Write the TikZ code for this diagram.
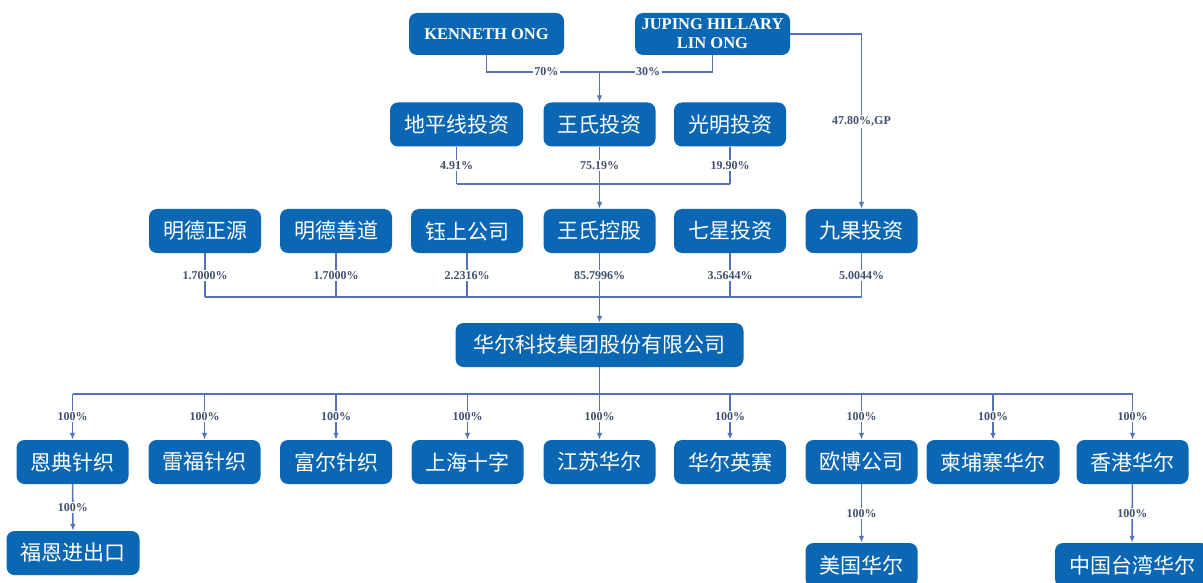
\documentclass[tikz,border=0pt]{standalone}
\usepackage{fontspec}
\setmainfont{Liberation Serif}
\newfontfamily\cjk{Noto Sans CJK SC}
\usetikzlibrary{arrows.meta,positioning}
\definecolor{boxblue}{HTML}{0B67B3}
\definecolor{linkblue}{HTML}{5272B4}
\definecolor{pctgray}{HTML}{3F4F6E}
\tikzset{
  firm/.style={fill=boxblue, text=white, rounded corners=8pt, minimum height=44pt,
    inner xsep=14pt, inner ysep=2pt, font=\cjk\fontsize{21}{21}\selectfont},
  person/.style={fill=boxblue, text=white, rounded corners=8pt, minimum height=42pt,
    minimum width=155pt, inner sep=3pt, align=center,
    font=\bfseries\fontsize{16.5}{19}\selectfont},
  link/.style={linkblue, line width=1.6pt},
  arr/.style={link, -{Latex[length=7pt,width=5.5pt]}},
  pct/.style={text=pctgray, fill=white, inner sep=1.5pt, font=\bfseries\fontsize{12}{13}\selectfont},
}

\begin{document}
\begin{tikzpicture}[x=1pt,y=-1pt]
\useasboundingbox (0,0) rectangle (1203,583);

% owners
\node[person] (ken) at (486.5,34) {KENNETH ONG};
\node[person, inner xsep=2pt] (jup) at (712.5,34) {JUPING HILLARY\\LIN ONG};

% investment level
\node[firm] (dpx) at (456.5,124.5) {地平线投资};
\node[firm] (wsinv) at (599.5,124.5) {王氏投资};
\node[firm] (gm) at (730,124.5) {光明投资};

% shareholders
\node[firm] (mdzy) at (205,231) {明德正源};
\node[firm] (mdsd) at (336,231) {明德善道};
\node[firm] (ys) at (467,231) {钰上公司};
\node[firm] (wskg) at (599.5,231) {王氏控股};
\node[firm] (qx) at (730,231) {七星投资};
\node[firm] (jg) at (861.5,231) {九果投资};

% listed company
\node[firm, inner xsep=18pt] (hr) at (599.5,345) {华尔科技集团股份有限公司};

% subsidiaries
\node[firm] (endian) at (72.5,462) {恩典针织};
\node[firm] (leifu) at (204.5,462) {雷福针织};
\node[firm] (fuer) at (336,462) {富尔针织};
\node[firm] (shsz) at (467.5,462) {上海十字};
\node[firm] (jshe) at (599.5,462) {江苏华尔};
\node[firm] (hrys) at (730,462) {华尔英赛};
\node[firm] (obo) at (861.5,462) {欧博公司};
\node[firm] (jpz) at (993,462) {柬埔寨华尔};
\node[firm] (xg) at (1132.5,462) {香港华尔};

\node[firm] (fuen) at (73,553) {福恩进出口};
\node[firm] (mg) at (861.5,565) {美国华尔};
\node[firm] (tw) at (1132,565) {中国台湾华尔};

% junctions
\coordinate (j0) at (599.5,72);
\coordinate (j1) at (599.5,184);
\coordinate (j2) at (599.5,297);
\coordinate (j3) at (599.5,394);

% top
\draw[link] (ken) -- (ken |- j0) -- node[pct, pos=0.53]{70\%} (j0);
\draw[link] (jup) -- (jup |- j0) -- node[pct, pos=0.57]{30\%} (j0);
\draw[arr] (j0) -- (wsinv);
\draw[arr] (jup.east) -- (jup.east -| jg) -- node[pct]{47.80\%,GP} (jg);

% into wskg
\draw[link] (dpx |- j1) -- (gm |- j1);
\draw[link] (dpx) -- node[pct]{4.91\%} (dpx |- j1);
\draw[link] (gm) -- node[pct]{19.90\%} (gm |- j1);
\draw[link] (wsinv) -- node[pct]{75.19\%} (j1);
\draw[arr] (j1) -- (wskg);

% into hr
\draw[link] (mdzy |- j2) -- (jg |- j2);
\draw[link] (mdzy) -- node[pct]{1.7000\%} (mdzy |- j2);
\draw[link] (mdsd) -- node[pct]{1.7000\%} (mdsd |- j2);
\draw[link] (ys) -- node[pct]{2.2316\%} (ys |- j2);
\draw[link] (wskg) -- node[pct]{85.7996\%} (j2);
\draw[link] (qx) -- node[pct]{3.5644\%} (qx |- j2);
\draw[link] (jg) -- node[pct]{5.0044\%} (jg |- j2);
\draw[arr] (j2) -- (hr);

% subsidiaries
\draw[link] (hr) -- (j3);
\draw[link] (endian |- j3) -- (xg |- j3);
\foreach \sub in {endian,leifu,fuer,shsz,jshe,hrys,obo,jpz,xg}
  \draw[arr] (\sub |- j3) -- node[pct]{100\%} (\sub);

\draw[arr] (endian) -- node[pct]{100\%} (fuen);
\draw[arr] (obo) -- node[pct]{100\%} (mg);
\draw[arr] (xg) -- node[pct]{100\%} (tw);

\end{tikzpicture}
\end{document}
